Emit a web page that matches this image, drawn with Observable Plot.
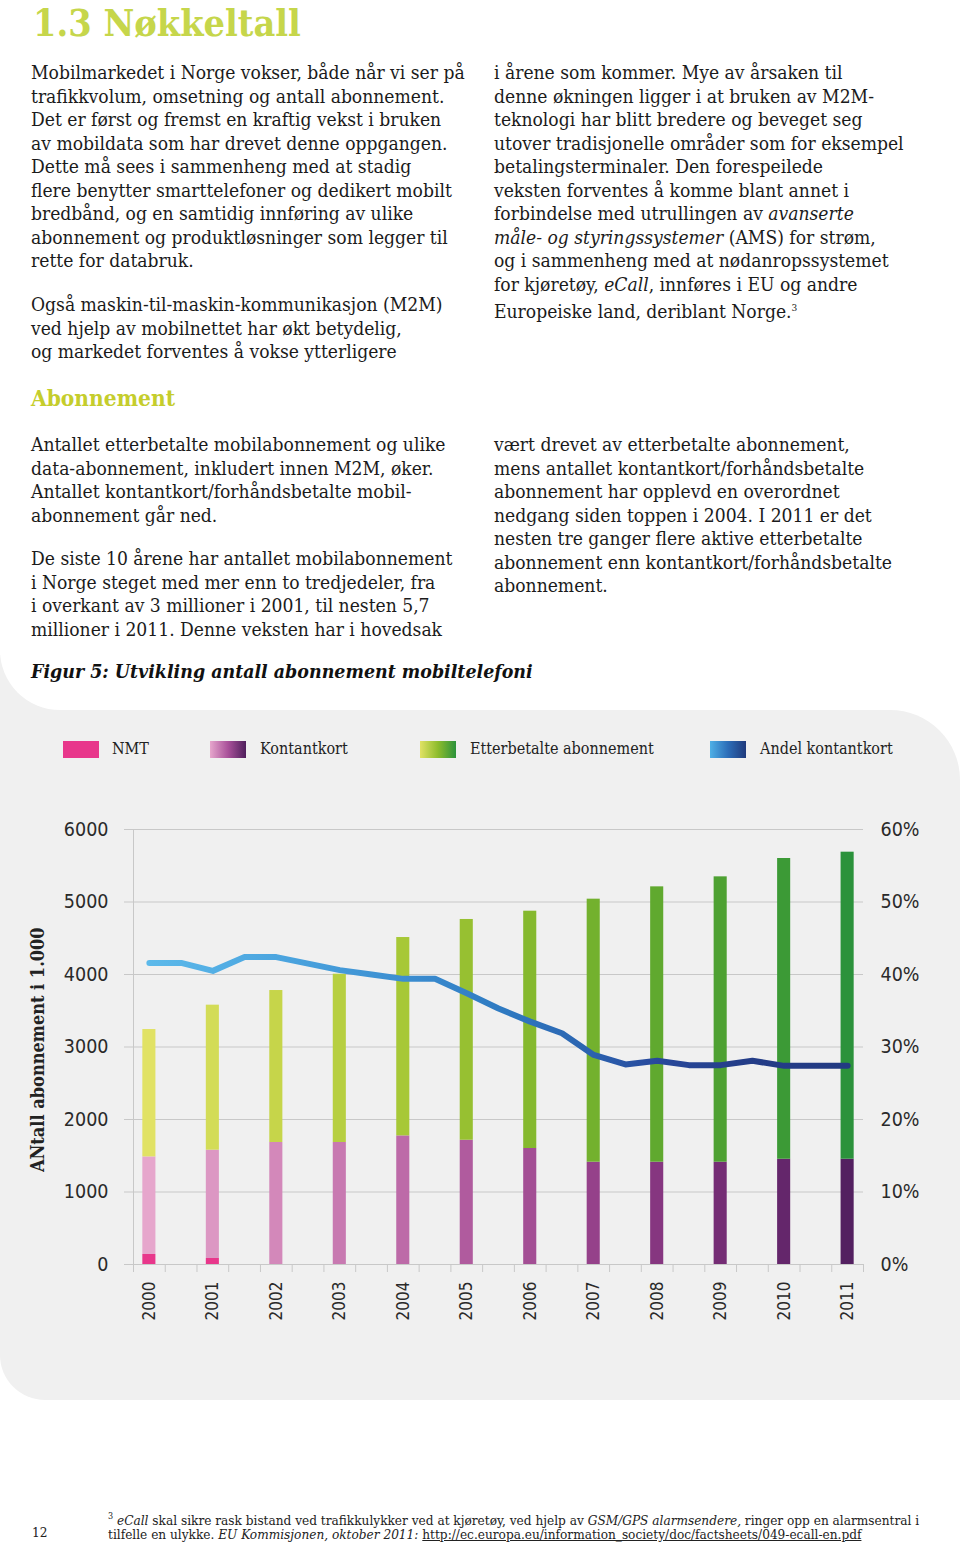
<!DOCTYPE html>
<html><head><meta charset="utf-8">
<script src="https://cdn.jsdelivr.net/npm/d3@7"></script>
<script src="https://cdn.jsdelivr.net/npm/@observablehq/plot@0.6"></script>
<style>
html,body{margin:0;padding:0}
body{width:960px;height:1544px;position:relative;background:#fff;overflow:hidden;color:#1b1b1b;font-family:"DejaVu Serif Condensed","DejaVu Serif",serif;font-stretch:condensed}
.abs{position:absolute}
.p{font-size:19.1px;line-height:23.5px;white-space:nowrap}
.p div{height:23.5px}
#title{left:33px;top:0px;font-size:37.5px;font-weight:bold;color:#c6d64b;line-height:46px;white-space:nowrap}
#sub{left:31px;top:385px;font-size:22.5px;font-weight:bold;color:#c5cd2c;white-space:nowrap}
#fig{left:31px;top:660px;font-size:19.4px;font-weight:bold;font-style:italic;color:#111;white-space:nowrap}
.panel{background:#f0f0f0}
.leg{font-size:16px;color:#222;white-space:nowrap;line-height:20px}
.sw{width:36px;height:17px}
#ytitle{font-size:18px;font-weight:bold;color:#222;white-space:nowrap;transform-origin:0 0;transform:rotate(-90deg)}
.foot{font-size:13.5px;line-height:17px;white-space:nowrap;color:#222}
</style></head>
<body>
<div class="abs panel" style="left:0;top:655px;width:120px;height:100px"></div>
<div class="abs" style="left:0;top:600px;width:960px;height:110px;background:#fff;border-bottom-left-radius:60px"></div>
<div class="abs panel" style="left:0;top:710px;width:960px;height:690px;border-top-right-radius:70px;border-bottom-left-radius:45px"></div>

<div id="title" class="abs">1.3 Nøkkeltall</div>

<div class="abs p" style="left:31px;top:61px">
<div>Mobilmarkedet i Norge vokser, både når vi ser på</div>
<div>trafikkvolum, omsetning og antall abonnement.</div>
<div>Det er først og fremst en kraftig vekst i bruken</div>
<div>av mobildata som har drevet denne oppgangen.</div>
<div>Dette må sees i sammenheng med at stadig</div>
<div>flere benytter smarttelefoner og dedikert mobilt</div>
<div>bredbånd, og en samtidig innføring av ulike</div>
<div>abonnement og produktløsninger som legger til</div>
<div>rette for databruk.</div>
</div>
<div class="abs p" style="left:31px;top:293px">
<div>Også maskin-til-maskin-kommunikasjon (M2M)</div>
<div>ved hjelp av mobilnettet har økt betydelig,</div>
<div>og markedet forventes å vokse ytterligere</div>
</div>
<div class="abs p" style="left:494px;top:61px">
<div>i årene som kommer. Mye av årsaken til</div>
<div>denne økningen ligger i at bruken av M2M-</div>
<div>teknologi har blitt bredere og beveget seg</div>
<div>utover tradisjonelle områder som for eksempel</div>
<div>betalingsterminaler. Den forespeilede</div>
<div>veksten forventes å komme blant annet i</div>
<div>forbindelse med utrullingen av <i>avanserte</i></div>
<div><i>måle- og styringssystemer</i> (AMS) for strøm,</div>
<div>og i sammenheng med at nødanropssystemet</div>
<div>for kjøretøy, <i>eCall</i>, innføres i EU og andre</div>
<div>Europeiske land, deriblant Norge.<sup style="font-size:10px">3</sup></div>
</div>

<div id="sub" class="abs">Abonnement</div>

<div class="abs p" style="left:31px;top:433px">
<div>Antallet etterbetalte mobilabonnement og ulike</div>
<div>data-abonnement, inkludert innen M2M, øker.</div>
<div>Antallet kontantkort/forhåndsbetalte mobil-</div>
<div>abonnement går ned.</div>
</div>
<div class="abs p" style="left:31px;top:547px">
<div>De siste 10 årene har antallet mobilabonnement</div>
<div>i Norge steget med mer enn to tredjedeler, fra</div>
<div>i overkant av 3 millioner i 2001, til nesten 5,7</div>
<div>millioner i 2011. Denne veksten har i hovedsak</div>
</div>
<div class="abs p" style="left:494px;top:433px">
<div>vært drevet av etterbetalte abonnement,</div>
<div>mens antallet kontantkort/forhåndsbetalte</div>
<div>abonnement har opplevd en overordnet</div>
<div>nedgang siden toppen i 2004. I 2011 er det</div>
<div>nesten tre ganger flere aktive etterbetalte</div>
<div>abonnement enn kontantkort/forhåndsbetalte</div>
<div>abonnement.</div>
</div>

<div id="fig" class="abs">Figur 5: Utvikling antall abonnement mobiltelefoni</div>

<div class="abs sw" style="left:63px;top:741px;background:#e8378b"></div>
<div class="abs leg" style="left:112px;top:739px">NMT</div>
<div class="abs sw" style="left:210px;top:741px;background:linear-gradient(to right,#e6a6cc,#a9519a,#4f1f5c)"></div>
<div class="abs leg" style="left:260px;top:739px">Kontantkort</div>
<div class="abs sw" style="left:420px;top:741px;background:linear-gradient(to right,#e1e264,#8dbc2c,#2b923b)"></div>
<div class="abs leg" style="left:470px;top:739px">Etterbetalte abonnement</div>
<div class="abs sw" style="left:710px;top:741px;background:linear-gradient(to right,#4fb0e6,#2c6db8,#1f3a7c)"></div>
<div class="abs leg" style="left:760px;top:739px">Andel kontantkort</div>

<div id="ytitle" class="abs" style="left:27px;top:1172px">ANtall abonnement i 1.000</div>

<div id="chart" class="abs" style="left:0;top:800px"></div>

<div class="abs foot" style="left:32px;top:1524px">12</div>
<div class="abs foot" style="left:108px;top:1508px"><sup style="font-size:9px">3</sup> <i>eCall</i> skal sikre rask bistand ved trafikkulykker ved at kjøretøy, ved hjelp av <i>GSM/GPS alarmsendere,</i> ringer opp en alarmsentral i</div>
<div class="abs foot" style="left:108px;top:1526px">tilfelle en ulykke. <i>EU Kommisjonen, oktober 2011:</i> <u>http://ec.europa.eu/information_society/doc/factsheets/049-ecall-en.pdf</u></div>

<script>
// ---- data ----
const years = [2000, 2001, 2002, 2003, 2004, 2005, 2006, 2007, 2008, 2009, 2010, 2011];
const nmt = [138, 83, 0, 0, 0, 0, 0, 0, 0, 0, 0, 0];
const kontantkort = [1346, 1494, 1683, 1683, 1774, 1714, 1600, 1411, 1411, 1411, 1452, 1452];
const etterbetalte = [1757, 2000, 2096, 2321, 2736, 3045, 3273, 3628, 3798, 3936, 4148, 4235];
const andelTimes = [2000, 2000.5, 2001, 2001.5, 2002, 2002.5, 2003, 2003.5, 2004, 2004.5, 2005, 2005.5,
                    2006, 2006.5, 2007, 2007.5, 2008, 2008.5, 2009, 2009.5, 2010, 2010.5, 2011];
const andelKontantkort = [41.6, 41.6, 40.5, 42.4, 42.4, 41.5, 40.6, 40.0, 39.4, 39.4, 37.4, 35.3,
                          33.5, 31.9, 28.9, 27.6, 28.1, 27.5, 27.5, 28.1, 27.4, 27.4, 27.4];
const leftTicks = [0, 1000, 2000, 3000, 4000, 5000, 6000];
const rightTickLabels = ["0%", "10%", "20%", "30%", "40%", "50%", "60%"];

// ---- tables built from the arrays ----
const rows = [];
years.forEach((y, i) => {
  rows.push({year: y, series: "NMT", value: nmt[i]});
  rows.push({year: y, series: "Kontantkort", value: kontantkort[i]});
  rows.push({year: y, series: "Etterbetalte abonnement", value: etterbetalte[i]});
});
const andel = andelTimes.map((t, i) => ({t, share: andelKontantkort[i]}));
const halfTicks = years.flatMap(y => [y - 0.25, y + 0.25]);

// ---- styles ----
const kontantInterp = d3.interpolateRgbBasis(["#e6a6cc", "#cc7db3", "#ab539a", "#83317d", "#532060"]);
const etterInterp = d3.interpolateRgbBasis(["#e1e264", "#bcd13f", "#8fbd2c", "#5ba72e", "#2b923b"]);
const tt = y => (y - years[0]) / (years[years.length - 1] - years[0]);
const fillOf = d => d.series === "NMT" ? "#e8378b"
  : d.series === "Kontantkort" ? kontantInterp(tt(d.year)) : etterInterp(tt(d.year));
const gridColor = "#c8c8c8";

const chart = Plot.plot({
  width: 960, height: 560,
  marginLeft: 133, marginRight: 97, marginTop: 29, marginBottom: 96,
  style: {background: "transparent", fontFamily: "'DejaVu Sans', sans-serif", fontSize: "19.5px", color: "#2a2a2a", overflow: "visible"},
  x: {type: "linear", domain: [years[0] - 0.25, years[years.length - 1] + 0.25]},
  y: {domain: [0, 6000]},
  color: {type: "identity"},
  marks: [
    Plot.gridY(leftTicks, {stroke: gridColor, strokeOpacity: 1}),
    Plot.axisY(leftTicks, {anchor: "left", tickSize: 9, tickPadding: 16, stroke: gridColor, strokeOpacity: 1, tickFormat: d => String(d), label: null}),
    Plot.axisY(leftTicks, {anchor: "right", tickSize: 0, tickPadding: 17, tickFormat: d => rightTickLabels[leftTicks.indexOf(d)], label: null}),
    Plot.axisX(halfTicks, {anchor: "bottom", tickSize: 8, stroke: gridColor, strokeOpacity: 1, tickFormat: () => "", label: null}),
    Plot.axisX(years, {anchor: "bottom", tickSize: 0, tickPadding: 17, tickRotate: -90, tickFormat: d => String(d), label: null, fontSize: 17}),
    Plot.ruleX([years[0] - 0.25], {stroke: gridColor}),
    Plot.rectY(rows, {x1: d => d.year - 0.5, x2: d => d.year + 0.5, y: "value", fill: fillOf, insetLeft: 25.2, insetRight: 25.2}),
    Plot.line(andel, {x: "t", y: d => d.share * 100, stroke: "url(#andelGrad)", strokeWidth: 6, strokeLinejoin: "round"})
  ]
});

// gradient definition for the share line
const ns = "http://www.w3.org/2000/svg";
const defs = document.createElementNS(ns, "defs");
const lg = document.createElementNS(ns, "linearGradient");
lg.setAttribute("id", "andelGrad");
lg.setAttribute("x1", "0"); lg.setAttribute("x2", "1"); lg.setAttribute("y1", "0"); lg.setAttribute("y2", "0");
[["0", "#5cb9ea"], ["0.2", "#4aa3de"], ["0.37", "#3b8dd0"], ["0.5", "#2f7bc2"], ["0.63", "#2b63b0"], ["0.73", "#28489b"], ["0.85", "#243d88"], ["1", "#223a82"]]
  .forEach(([o, c]) => { const s = document.createElementNS(ns, "stop"); s.setAttribute("offset", o); s.setAttribute("stop-color", c); lg.appendChild(s); });
defs.appendChild(lg);
chart.insertBefore(defs, chart.firstChild);
document.getElementById("chart").appendChild(chart);
</script>
</body></html>
